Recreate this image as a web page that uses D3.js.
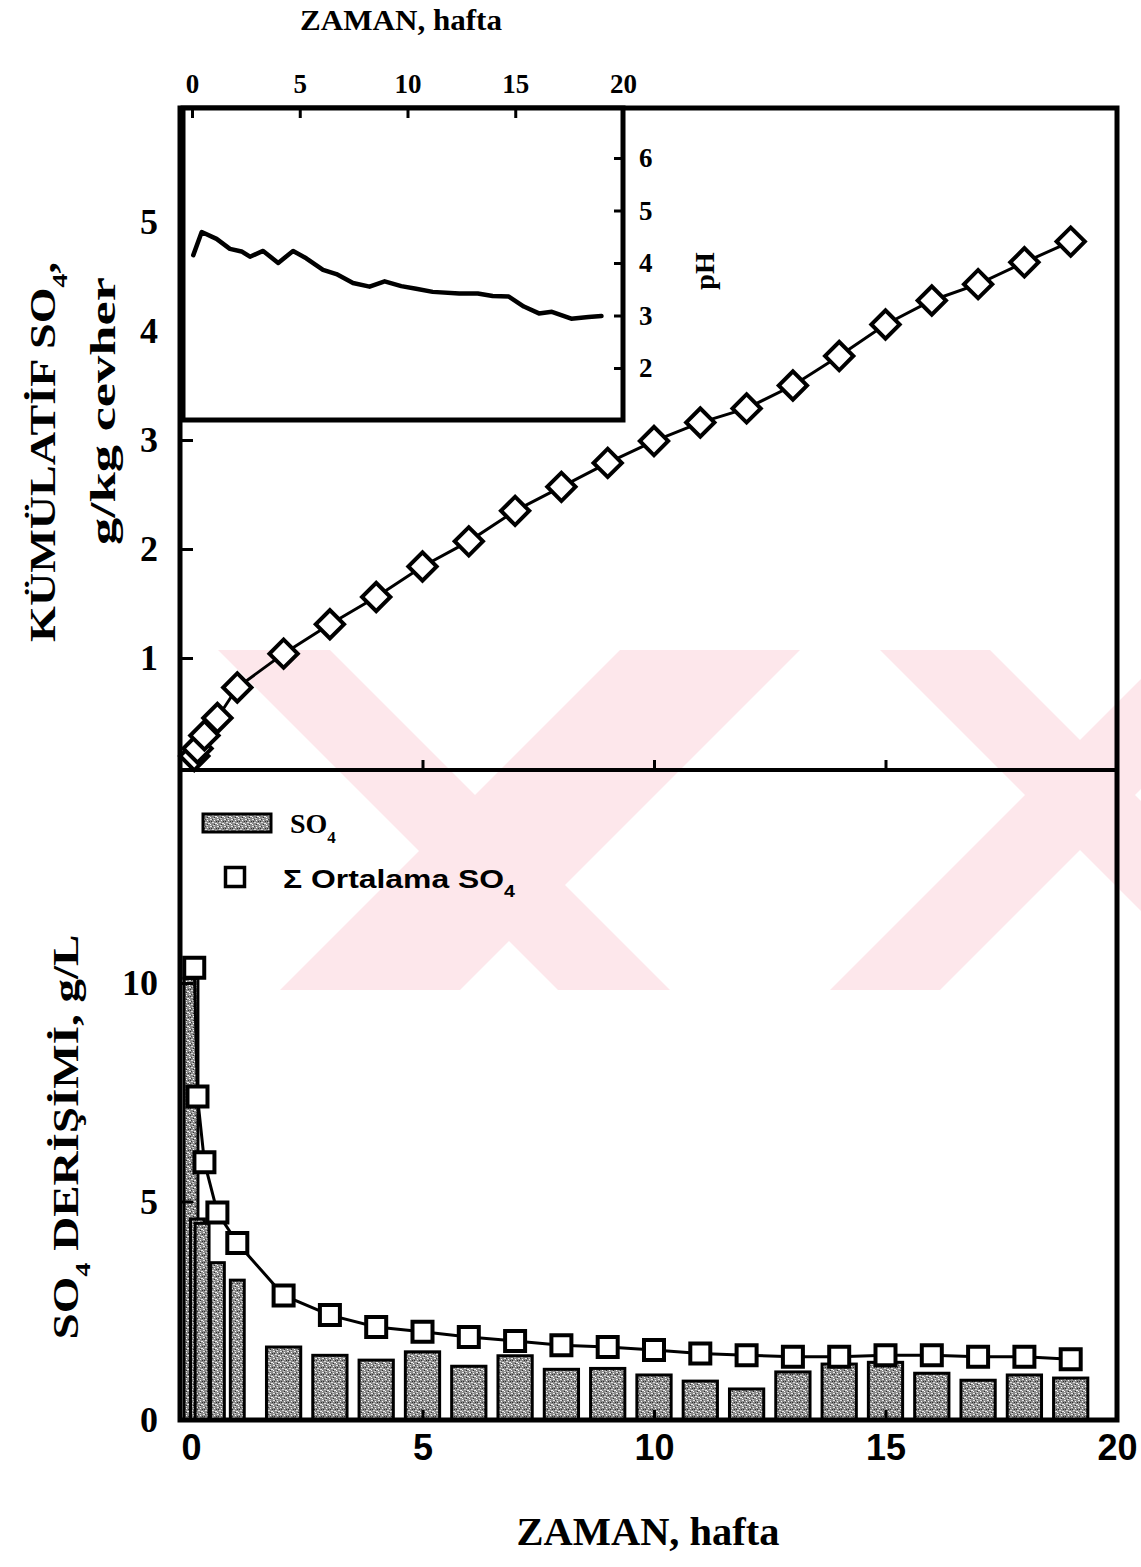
<!DOCTYPE html>
<html>
<head>
<meta charset="utf-8">
<script src="https://cdn.jsdelivr.net/npm/d3@7"></script>
<style>
  body { margin: 0; background: #fff; }
  svg { display: block; }
</style>
</head>
<body>
<svg id="chart" width="1141" height="1567"></svg>
<script>
// Sampling times (weeks) and cumulative sulphate release (g/kg ore)
const cumWeeks = [0.07, 0.14, 0.29, 0.57, 1, 2, 3, 4, 5, 6, 7, 8, 9, 10, 11, 12, 13, 14, 15, 16, 17, 18, 19];
const cumSO4 = [0.10, 0.17, 0.29, 0.45, 0.73, 1.04, 1.31, 1.56, 1.84, 2.07, 2.35, 2.57, 2.79, 2.99, 3.16, 3.29, 3.50, 3.77, 4.06, 4.28, 4.43, 4.63, 4.82];

// Running average sulphate concentration (g/L)
const avgWeeks = [0.07, 0.14, 0.29, 0.57, 1, 2, 3, 4, 5, 6, 7, 8, 9, 10, 11, 12, 13, 14, 15, 16, 17, 18, 19];
const avgSO4 = [10.35, 7.4, 5.9, 4.75, 4.05, 2.85, 2.40, 2.13, 2.02, 1.90, 1.81, 1.71, 1.67, 1.60, 1.52, 1.48, 1.45, 1.45, 1.48, 1.48, 1.45, 1.45, 1.39];

// Sulphate concentration of each leachate sample (g/L)
const barWeeks = [0, 0.14, 0.24, 0.57, 1, 2, 3, 4, 5, 6, 7, 8, 9, 10, 11, 12, 13, 14, 15, 16, 17, 18, 19];
const barSO4 = [10.1, 4.6, 4.5, 3.6, 3.2, 1.67, 1.48, 1.37, 1.56, 1.23, 1.47, 1.16, 1.18, 1.03, 0.89, 0.71, 1.10, 1.28, 1.32, 1.07, 0.91, 1.03, 0.96];

// Leachate pH (inset)
const phWeeks = [0.06, 0.45, 1.14, 1.76, 2.3, 2.69, 3.3, 4.0, 4.69, 5.3, 6.08, 6.7, 7.47, 8.24, 8.94, 9.71, 10.4, 11.17, 12.4, 13.26, 13.95, 14.7, 15.4, 16.1, 16.7, 17.6, 18.4, 19.0];
const phValues = [4.15, 4.59, 4.46, 4.27, 4.22, 4.12, 4.23, 4.0, 4.23, 4.09, 3.87, 3.79, 3.62, 3.55, 3.65, 3.56, 3.51, 3.45, 3.42, 3.42, 3.37, 3.36, 3.17, 3.04, 3.07, 2.94, 2.97, 2.99];

// Tick values
const weekTicks = [0, 5, 10, 15, 20];
const innerWeekTicks = [5, 10, 15];
const cumTicks = [1, 2, 3, 4, 5];
const concTicks = [0, 5, 10];
const phTicks = [2, 3, 4, 5, 6];

const SERIF = "'Liberation Serif', 'Times New Roman', serif";
const SANS = "'Liberation Sans', Arial, sans-serif";

const svg = d3.select("#chart");

// Panel geometry
const L = 180, R = 1117, T = 108, MID = 770, B = 1420;
const inset = { l: 183, r: 623, t: 108, b: 420 };

const x = d3.scaleLinear().domain([0, 20]).range([191, 1117]);
const yTop = d3.scaleLinear().domain([0, 5]).range([767, 222]);
const yBot = d3.scaleLinear().domain([0, 10]).range([1420, 983]);
const xIn = d3.scaleLinear().domain([0, 20]).range([192, 623]);
const yIn = d3.scaleLinear().domain([2, 6]).range([368, 158]);

const defs = svg.append("defs");

// Pale pink emblem behind the plot area
defs.append("clipPath").attr("id", "stamp-clip")
  .append("rect").attr("x", 218).attr("y", 650).attr("width", 923).attr("height", 340);
const stamp = svg.append("g").attr("clip-path", "url(#stamp-clip)").attr("fill", "#fde7eb");
[
  [[218, 650], [330, 650], [670, 990], [558, 990]],
  [[280, 990], [460, 990], [800, 650], [620, 650]],
  [[880, 650], [990, 650], [1330, 990], [1220, 990]],
  [[830, 990], [940, 990], [1280, 650], [1170, 650]]
].forEach(poly => stamp.append("polygon").attr("points", poly.map(p => p.join(",")).join(" ")));

// Speckled grey fill for the bars
const pat = defs.append("pattern").attr("id", "speckle")
  .attr("width", 7).attr("height", 7).attr("patternUnits", "userSpaceOnUse");
pat.append("rect").attr("width", 7).attr("height", 7).attr("fill", "#8a8a8a");
[[0, 0, 2, 1, "#e8e8e8"], [4, 1, 1, 1, "#ffffff"], [2, 3, 2, 1, "#dcdcdc"], [5, 4, 2, 1, "#f0f0f0"],
 [0, 5, 1, 1, "#ffffff"], [3, 6, 2, 1, "#d0d0d0"], [6, 2, 1, 1, "#303030"], [1, 2, 1, 1, "#303030"],
 [4, 5, 1, 1, "#2a2a2a"], [2, 0, 1, 1, "#404040"]]
  .forEach(([px, py, w, h, c]) => pat.append("rect").attr("x", px).attr("y", py)
    .attr("width", w).attr("height", h).attr("fill", c));

// ---------- bottom panel: concentration bars + running average ----------
const wideBar = x(0.74) - x(0);
const narrowBar = x(0.3) - x(0);
const bars = barWeeks.map((w, i) => ({ w, v: barSO4[i] }));
svg.append("g").selectAll("rect").data(bars).join("rect")
  .attr("x", d => x(d.w) - (d.w < 1.5 ? narrowBar : wideBar) / 2)
  .attr("width", d => d.w < 1.5 ? narrowBar : wideBar)
  .attr("y", d => yBot(d.v))
  .attr("height", d => yBot(0) - yBot(d.v))
  .attr("fill", "url(#speckle)")
  .attr("stroke", "#000").attr("stroke-width", 3);

const avgPts = avgWeeks.map((w, i) => ({ w, v: avgSO4[i] }));
svg.append("path").datum(avgPts)
  .attr("d", d3.line().x(d => x(d.w)).y(d => yBot(d.v)))
  .attr("fill", "none").attr("stroke", "#000").attr("stroke-width", 3);
svg.append("g").selectAll("path").data(avgPts).join("path")
  .attr("d", d3.symbol(d3.symbolSquare, 400))
  .attr("transform", d => `translate(${x(d.w)},${yBot(d.v)})`)
  .attr("fill", "#fff").attr("stroke", "#000").attr("stroke-width", 4);

// ---------- top panel: cumulative sulphate ----------
const cumPts = cumWeeks.map((w, i) => ({ w, v: cumSO4[i] }));
svg.append("path").datum(cumPts)
  .attr("d", d3.line().x(d => x(d.w)).y(d => yTop(d.v)))
  .attr("fill", "none").attr("stroke", "#000").attr("stroke-width", 3);
svg.append("g").selectAll("path").data(cumPts).join("path")
  .attr("d", d3.symbol(d3.symbolSquare, 400))
  .attr("transform", d => `translate(${x(d.w)},${yTop(d.v)}) rotate(45)`)
  .attr("fill", "#fff").attr("stroke", "#000").attr("stroke-width", 4);

// ---------- frames ----------
svg.append("rect").attr("x", L).attr("y", T).attr("width", R - L).attr("height", B - T)
  .attr("fill", "none").attr("stroke", "#000").attr("stroke-width", 5);
svg.append("line").attr("x1", L).attr("x2", R).attr("y1", MID).attr("y2", MID)
  .attr("stroke", "#000").attr("stroke-width", 4);

function styleAxis(g, font, size) {
  g.select(".domain").remove();
  g.selectAll(".tick line").attr("stroke", "#000").attr("stroke-width", 3);
  g.selectAll(".tick text").attr("fill", "#000")
    .style("font-family", font).style("font-size", size + "px").style("font-weight", "bold");
}

// bottom x axis
svg.append("g").attr("transform", `translate(0,${B})`)
  .call(d3.axisBottom(x).tickValues(weekTicks).tickFormat(d3.format("d")).tickSize(0).tickPadding(14))
  .call(g => styleAxis(g, SANS, 36));
svg.append("g").attr("transform", `translate(0,${B})`)
  .call(d3.axisBottom(x).tickValues(innerWeekTicks).tickFormat("").tickSize(-10))
  .call(g => styleAxis(g, SANS, 36));
// top panel baseline ticks
svg.append("g").attr("transform", `translate(0,${MID})`)
  .call(d3.axisBottom(x).tickValues(innerWeekTicks).tickFormat("").tickSize(-10))
  .call(g => styleAxis(g, SANS, 36));

// left axes
svg.append("g").attr("transform", `translate(${L},0)`)
  .call(d3.axisLeft(yTop).tickValues(cumTicks).tickFormat(d3.format("d")).tickSize(-13).tickPadding(22))
  .call(g => styleAxis(g, SERIF, 36));
svg.append("g").attr("transform", `translate(${L},0)`)
  .call(d3.axisLeft(yBot).tickValues(concTicks).tickFormat(d3.format("d")).tickSize(-13).tickPadding(22))
  .call(g => styleAxis(g, SERIF, 36));

// ---------- inset: pH ----------
svg.append("rect").attr("x", inset.l).attr("y", inset.t)
  .attr("width", inset.r - inset.l).attr("height", inset.b - inset.t)
  .attr("fill", "#fff").attr("stroke", "#000").attr("stroke-width", 5);
const phPts = phWeeks.map((w, i) => ({ w, v: phValues[i] }));
svg.append("path").datum(phPts)
  .attr("d", d3.line().x(d => xIn(d.w)).y(d => yIn(d.v)))
  .attr("fill", "none").attr("stroke", "#000").attr("stroke-width", 4.5)
  .attr("stroke-linejoin", "round").attr("stroke-linecap", "round");
svg.append("g").attr("transform", `translate(0,${inset.t})`)
  .call(d3.axisTop(xIn).tickValues(weekTicks).tickFormat(d3.format("d")).tickSize(-10).tickPadding(15))
  .call(g => styleAxis(g, SERIF, 27));
svg.append("g").attr("transform", `translate(${inset.r},0)`)
  .call(d3.axisRight(yIn).tickValues(phTicks).tickFormat(d3.format("d")).tickSize(-9).tickPadding(16))
  .call(g => styleAxis(g, SERIF, 27));

// ---------- titles ----------
function label(parts, opts) {
  const t = svg.append("text")
    .attr("text-anchor", "middle")
    .style("font-family", opts.font).style("font-size", opts.size + "px")
    .style("font-weight", "bold").attr("fill", "#000");
  parts.forEach(p => {
    const s = t.append("tspan").text(p.text);
    if (p.sub) s.attr("baseline-shift", "sub").style("font-size", Math.round(opts.size * 0.6) + "px");
  });
  const len = t.node().getComputedTextLength();
  const k = opts.length ? opts.length / len : 1;
  t.attr("transform", `translate(${opts.x},${opts.y}) rotate(${opts.rotate || 0}) scale(${k},1)`);
  return t;
}

label([{ text: "ZAMAN, hafta" }], { x: 401, y: 30, font: SERIF, size: 30, length: 202 });
label([{ text: "ZAMAN, hafta" }], { x: 648, y: 1545, font: SERIF, size: 40, length: 263 });
label([{ text: "pH" }], { x: 714, y: 271, font: SERIF, size: 28, rotate: -90 });
label([{ text: "KÜMÜLATİF SO" }, { text: "4", sub: true }, { text: "," }],
  { x: 55, y: 452, font: SERIF, size: 35, rotate: -90, length: 380 });
label([{ text: "g/kg cevher" }], { x: 115, y: 411, font: SERIF, size: 36, rotate: -90, length: 268 });
label([{ text: "SO" }, { text: "4", sub: true }, { text: " DERİŞİMİ, g/L" }],
  { x: 78, y: 1137, font: SERIF, size: 35, rotate: -90, length: 405 });

// ---------- legend ----------
svg.append("rect").attr("x", 203).attr("y", 814).attr("width", 68).attr("height", 18)
  .attr("fill", "url(#speckle)").attr("stroke", "#000").attr("stroke-width", 3);
svg.append("text").attr("x", 290).attr("y", 833)
  .style("font-family", SERIF).style("font-size", "28px").style("font-weight", "bold")
  .call(t => { t.append("tspan").text("SO"); t.append("tspan").text("4").attr("baseline-shift", "sub").style("font-size", "17px"); });
svg.append("path").attr("d", d3.symbol(d3.symbolSquare, 361))
  .attr("transform", "translate(235,877)")
  .attr("fill", "#fff").attr("stroke", "#000").attr("stroke-width", 3.5);
const leg2 = svg.append("text").attr("x", 0).attr("y", 0)
  .style("font-family", SANS).style("font-size", "26px").style("font-weight", "bold");
leg2.append("tspan").text("Σ Ortalama SO");
leg2.append("tspan").text("4").attr("baseline-shift", "sub").style("font-size", "16px");
{
  const len = leg2.node().getComputedTextLength();
  leg2.attr("transform", `translate(283,888) scale(${232 / len},1)`);
}
</script>
</body>
</html>
